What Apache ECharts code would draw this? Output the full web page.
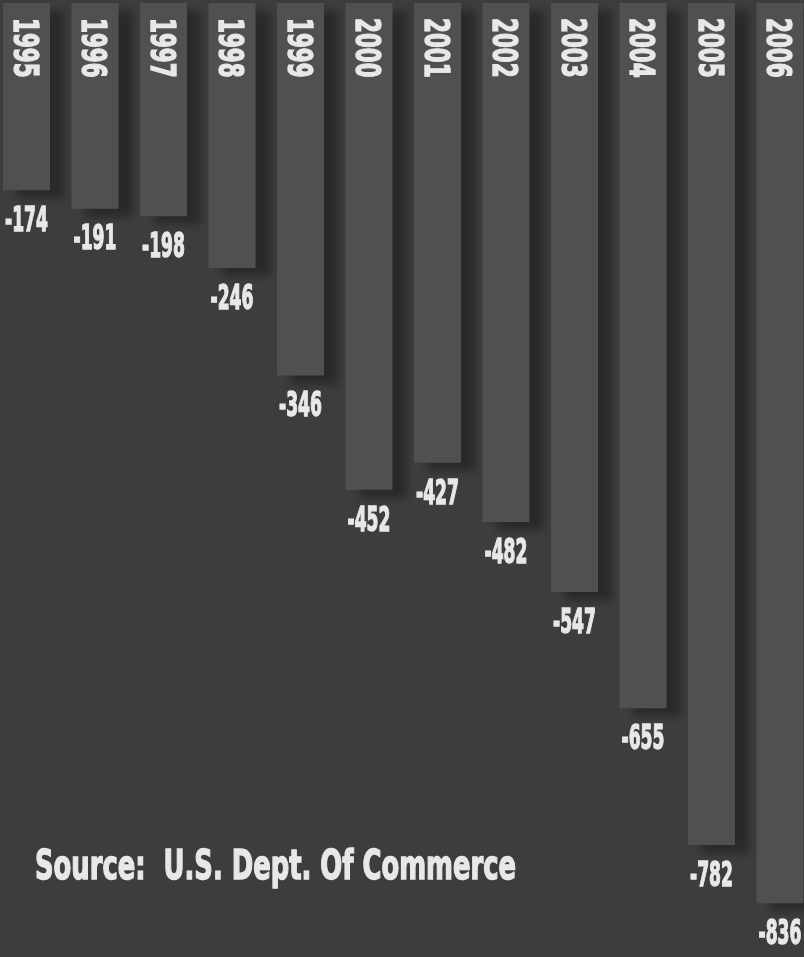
<!DOCTYPE html>
<html>
<head>
<meta charset="utf-8">
<script src="https://cdn.jsdelivr.net/npm/echarts@6/dist/echarts.min.js"></script>
<style>
  html, body { margin: 0; padding: 0; background: #3d3d3d; }
  #chart { width: 804px; height: 957px; }
</style>
</head>
<body>
<div id="chart"></div>
<script>
// U.S. trade balance by year (billions of dollars)
const years = ['1995','1996','1997','1998','1999','2000','2001','2002','2003','2004','2005','2006'];
const balance = [-174, -191, -198, -246, -346, -452, -427, -482, -547, -655, -782, -836];
const sourceNote = 'Source:  U.S. Dept. Of Commerce';

const FONT = '"DejaVu Sans Condensed", "DejaVu Sans", sans-serif';
const TEXT = '#e8e8e8';

// condensed poster-style lettering: squeeze the glyphs horizontally
const VALUE_SIZE = 34, VALUE_SQUEEZE = 0.56;
const YEAR_SIZE = 34, YEAR_SQUEEZE = 0.7;
const NOTE_SIZE = 41, NOTE_SQUEEZE = 0.70;

function heavyText(text, size) {
  return {
    text: text,
    fill: TEXT,
    stroke: TEXT,
    lineWidth: 1.4,
    fontFamily: FONT,
    fontWeight: 'bold',
    fontSize: size
  };
}

function renderLabels(params, api) {
  const i = params.dataIndex;
  const top = api.coord([i, 0]);
  const end = api.coord([i, api.value(1)]);
  return {
    type: 'group',
    children: [
      {
        type: 'text',
        x: top[0] - 4,
        y: top[1] + 15,
        rotation: -Math.PI / 2,
        scaleX: YEAR_SQUEEZE,
        style: Object.assign(heavyText(years[i], YEAR_SIZE), { align: 'left', verticalAlign: 'middle' })
      },
      {
        type: 'text',
        x: end[0],
        y: end[1] + 32,
        scaleX: VALUE_SQUEEZE,
        style: Object.assign(heavyText(String(api.value(1)), VALUE_SIZE), { align: 'center', verticalAlign: 'middle' })
      }
    ]
  };
}

const chart = echarts.init(document.getElementById('chart'));
chart.setOption({
  backgroundColor: '#3d3d3d',
  animation: false,
  grid: { left: 26.5, right: 24, top: 3, bottom: 0, containLabel: false },
  xAxis: {
    type: 'category',
    data: years,
    boundaryGap: false,
    position: 'top',
    axisLine: { show: false },
    axisTick: { show: false },
    axisLabel: { show: false },
    splitLine: { show: false }
  },
  yAxis: {
    type: 'value',
    min: -886,
    max: 0,
    splitLine: { show: false },
    axisLine: { show: false },
    axisTick: { show: false },
    axisLabel: { show: false }
  },
  graphic: [
    {
      type: 'text',
      x: 35,
      y: 868,
      scaleX: NOTE_SQUEEZE,
      style: Object.assign(heavyText(sourceNote, NOTE_SIZE), { align: 'left', verticalAlign: 'middle' })
    }
  ],
  series: [
    {
      type: 'bar',
      data: balance,
      barWidth: 47,
      itemStyle: {
        color: '#505050',
        shadowColor: 'rgba(0,0,0,0.32)',
        shadowBlur: 8,
        shadowOffsetX: 14,
        shadowOffsetY: 8
      }
    },
    {
      type: 'custom',
      data: years.map((y, i) => [i, balance[i]]),
      renderItem: renderLabels,
      silent: true,
      z: 5
    }
  ]
});
</script>
</body>
</html>
